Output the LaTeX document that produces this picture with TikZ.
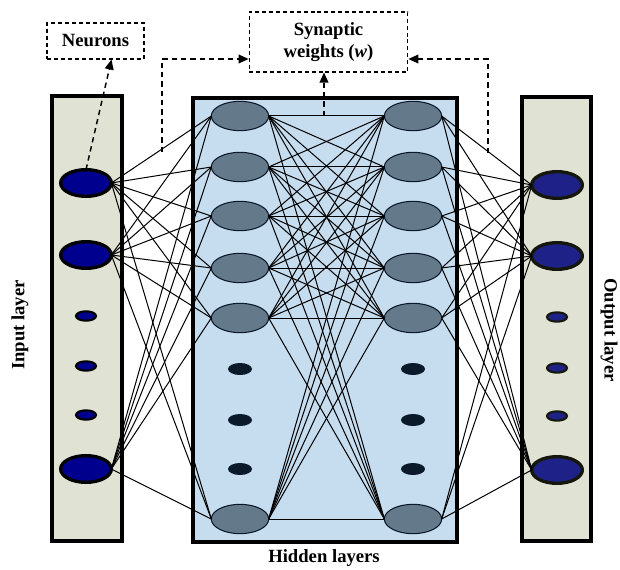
\documentclass[tikz,border=0pt]{standalone}
\usepackage{fontspec}
\setmainfont{Liberation Serif}
\usetikzlibrary{arrows.meta,shapes.geometric}

\definecolor{inpanel}{HTML}{E0E3D3}
\definecolor{hidpanel}{HTML}{C6DDEF}
\definecolor{inblue}{HTML}{00008F}
\definecolor{outblue}{HTML}{1E2288}
\definecolor{hidgrey}{HTML}{647A8B}
\definecolor{hiddark}{HTML}{0B1A2A}
\definecolor{rimdark}{HTML}{15170C}

\begin{document}
\begin{tikzpicture}[x=0.75pt,y=-0.75pt,
  panel/.style={draw=black,line width=3pt,inner sep=0pt,outer sep=0pt},
  neuron/.style={ellipse,inner sep=0pt,outer sep=0pt},
  inbig/.style={neuron,draw=black,fill=inblue,line width=2.5pt,minimum width=38pt,minimum height=20pt},
  insmall/.style={neuron,draw=black,fill=inblue,line width=1.6pt,minimum width=15pt,minimum height=7pt},
  outbig/.style={neuron,draw=rimdark,fill=outblue,line width=2.5pt,minimum width=38pt,minimum height=20pt},
  outsmall/.style={neuron,draw=rimdark,fill=outblue,line width=1.6pt,minimum width=15pt,minimum height=7pt},
  hid/.style={neuron,draw=hiddark,fill=hidgrey,line width=0.8pt,minimum width=43pt,minimum height=22pt},
  hdot/.style={neuron,fill=hiddark,minimum width=18pt,minimum height=9pt},
  link/.style={line width=0.75pt,draw=black},
  note/.style={draw=black,dashed,dash pattern=on 3pt off 2.2pt,line width=0.8pt,align=center,
    font=\fontsize{14}{17}\selectfont\bfseries,inner sep=0pt},
  pointer/.style={draw=black,line width=1.1pt,dash pattern=on 4pt off 3pt,
    -{Triangle[length=7.5pt,width=6.5pt]}},
  caption/.style={font=\fontsize{14}{17}\selectfont\bfseries,inner sep=0pt}]

\useasboundingbox (0,0) rectangle (620,570);

% layer panels
\node[panel,fill=inpanel,minimum width=52.5pt,minimum height=333.75pt] (inP) at (87,318.5) {};
\node[panel,fill=hidpanel,minimum width=198pt,minimum height=333pt] (hidP) at (325,320) {};
\node[panel,fill=inpanel,minimum width=51.75pt,minimum height=333pt] (outP) at (556.5,319) {};

% input layer
\foreach \n/\y in {1/183,2/255,6/469} \node[inbig] (i\n) at (86,\y) {};
\foreach \n/\y in {3/316,4/366,5/415} \node[insmall] (i\n) at (86,\y) {};

% hidden layers
\foreach \n/\y in {1/116,2/167,3/216,4/268,5/318,6/519} {
  \node[hid] (a\n) at (240,\y) {};
  \node[hid] (b\n) at (413,\y) {};
}
\foreach \n/\y in {1/369,2/420,3/469} {
  \node[hdot] (da\n) at (240,\y) {};
  \node[hdot] (db\n) at (413,\y) {};
}

% output layer
\foreach \n/\y in {1/185,2/256,6/470} \node[outbig] (o\n) at (557,\y) {};
\foreach \n/\y in {3/317,4/368,5/416} \node[outsmall] (o\n) at (557,\y) {};

% connections
\foreach \s in {1,2,6} \foreach \t in {1,...,6} \draw[link] (i\s.east) -- (a\t.west);
\foreach \s in {1,...,6} \foreach \t in {1,...,6} \draw[link] (a\s.east) -- (b\t.west);
\foreach \s in {1,...,6} \foreach \t in {1,2,6} \draw[link] (b\s.east) -- (o\t.west);

% annotations
\node[note,minimum width=72.75pt,minimum height=27pt] (neur) at (95.5,41) {Neurons};
\node[note,minimum width=119pt,minimum height=45pt] (syn) at (328.5,42) {Synaptic\\weights (\textit{w})};

\coordinate (cL) at (162,152);
\coordinate (cR) at (488,153);
\coordinate (cM) at (324,116);
\draw[pointer] (i1.north) -- ([xshift=12pt]neur.south);
\draw[pointer] (cL) |- ([yshift=-12.75pt]syn.west);
\draw[pointer] (cR) |- ([yshift=-12.75pt]syn.east);
\draw[pointer] (cM) -- (cM |- syn.south);

% layer names
\node[caption,rotate=90] (inL) at (20,325) {Input layer};
\node[caption,rotate=-90] (outL) at (609,330) {Output layer};
\node[caption] (hidL) at (324,558) {Hidden layers};
\end{tikzpicture}
\end{document}
